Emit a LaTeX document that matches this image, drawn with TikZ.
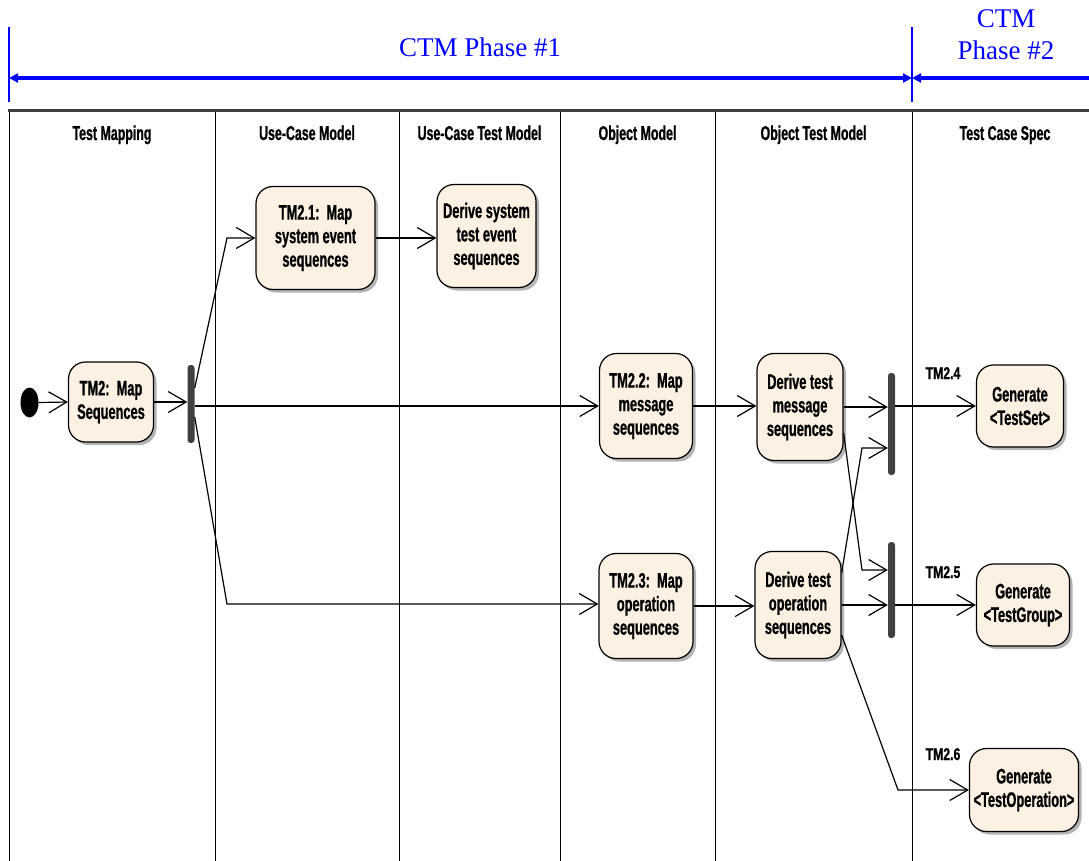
\documentclass[tikz,border=0pt]{standalone}
\usepackage{fontspec}
\usetikzlibrary{arrows.meta,shadows,shapes.geometric}
\newfontfamily\uifont{Liberation Sans}[FakeStretch=0.61, BoldFeatures={FakeBold=0.8}]
\newfontfamily\headfont{Liberation Sans}[FakeStretch=0.62, BoldFeatures={FakeBold=0.8}]
\newfontfamily\tagfont{Liberation Sans}[FakeStretch=0.72, BoldFeatures={FakeBold=0.8}]
\newfontfamily\phasefont{Liberation Serif}
\definecolor{actfill}{RGB}{252,241,226}
\definecolor{bardark}{RGB}{64,64,64}
\begin{document}
\begin{tikzpicture}[x=1pt,y=-1pt,
  act/.style={draw=black, line width=1.2pt, fill=actfill, rounded corners=17pt,
    align=center, inner sep=2pt,
    font=\uifont\bfseries\fontsize{21}{23.5}\selectfont,
    drop shadow={shadow xshift=3pt,shadow yshift=-3pt,fill=black!50,opacity=0.6}},
  forkbar/.style={fill=bardark, rounded corners=3pt, minimum width=7pt, inner sep=0pt},
  initial/.style={ellipse, fill=black, minimum width=18pt, minimum height=30pt, inner sep=0pt},
  flow/.style={draw=black, line width=1.2pt, -{Straight Barb[length=18pt,width=21pt]}},
  lanehead/.style={anchor=base, inner sep=0pt, font=\headfont\bfseries\fontsize{20}{22}\selectfont},
  tag/.style={anchor=base, inner sep=0pt, font=\tagfont\bfseries\fontsize{17}{19}\selectfont},
  phase/.style={anchor=base, inner sep=0pt, text=blue, font=\phasefont\fontsize{27}{32}\selectfont},
  lane/.style={draw=black, line width=0.9pt},
  phasemark/.style={draw=blue, line width=2.7pt},
  phasespan/.style={draw=blue, line width=3.3pt}
]
\useasboundingbox (0,0) rectangle (1089,861);

% phase markers
\draw[phasemark] (9,27) -- (9,102);
\draw[phasemark] (912,27) -- (912,102);
\draw[phasespan, {Triangle[length=9pt,width=9pt]}-{Triangle[length=9pt,width=9pt]}] (9,78) -- (912,78);
\draw[phasespan, {Triangle[length=9pt,width=9pt]}-] (912,78) -- (1089,78);
\node[phase] (ph1) at (480,57) {CTM Phase \#1};
\node[phase] (ph2a) at (1006,28) {CTM};
\node[phase] (ph2b) at (1006,60) {Phase \#2};

% swimlanes
\draw[lane] (9,110) -- (9,861);
\foreach \lx in {215,399,560,715,912} \draw[lane] (\lx,110) -- (\lx,861);
\draw[line width=2.5pt, black!75] (8,110.5) -- (1089,110.5);

\node[lanehead] (h1) at (112,140) {Test Mapping};
\node[lanehead] (h2) at (307,140) {Use-Case Model};
\node[lanehead] (h3) at (479.5,140) {Use-Case Test Model};
\node[lanehead] (h4) at (637.5,140) {Object Model};
\node[lanehead] (h5) at (813.5,140) {Object Test Model};
\node[lanehead] (h6) at (1005,140) {Test Case Spec};

% activities
\node[initial] (start) at (29.5,402.5) {};
\node[act, minimum width=85pt, minimum height=80pt] (tm2) at (111,402) {TM2:\ \ Map\\Sequences};
\node[act, minimum width=119pt, minimum height=103pt] (tm21) at (315.5,238) {TM2.1:\ \ Map\\system event\\sequences};
\node[act, minimum width=99pt, minimum height=103pt] (dsys) at (486.5,236) {Derive system\\test event\\sequences};
\node[act, minimum width=93pt, minimum height=105pt] (tm22) at (646,406) {TM2.2:\ \ Map\\message\\sequences};
\node[act, minimum width=86pt, minimum height=107pt] (dmsg) at (800,407) {Derive test\\message\\sequences};
\node[act, minimum width=94pt, minimum height=105pt] (tm23) at (646,606) {TM2.3:\ \ Map\\operation\\sequences};
\node[act, minimum width=86pt, minimum height=107pt] (dop) at (798,605) {Derive test\\operation\\sequences};
\node[act, minimum width=87pt, minimum height=82pt] (gen1) at (1020,406) {Generate\\<TestSet>};
\node[act, minimum width=93pt, minimum height=82pt] (gen2) at (1023,605) {Generate\\<TestGroup>};
\node[act, minimum width=109pt, minimum height=83pt] (gen3) at (1024,790) {Generate\\<TestOperation>};

% fork / join bars
\node[forkbar, minimum height=78pt] (bar1) at (191,404) {};
\node[forkbar, minimum height=102pt] (bar2) at (891.5,424) {};
\node[forkbar, minimum height=96pt] (bar3) at (891.5,590) {};

% step tags
\node[tag] (t24) at (943,379) {TM2.4};
\node[tag] (t25) at (943,578) {TM2.5};
\node[tag] (t26) at (943,760) {TM2.6};

% bend points
\coordinate (c1) at (227,238);
\coordinate (c2) at (227,604);
\coordinate (c3) at (862,448);
\coordinate (c4) at (862,570);
\coordinate (c5) at (898,790);

% control flows
\draw[flow] (start.east) -- (tm2.west);
\draw[flow] (tm2.east) -- (bar1.west |- tm2.east);
\draw[flow] ([yshift=16pt]bar1.east) -- (c1) -- (c1 -| tm21.west);
\draw[flow] (bar1.east |- tm22.west) -- (tm22.west);
\draw[flow] ([yshift=-13pt]bar1.east) -- (c2) -- (c2 -| tm23.west);
\draw[flow] (tm21.east) -- (tm21.east -| dsys.west);
\draw[flow] (tm22.east) -- (tm22.east -| dmsg.west);
\draw[flow] (tm23.east) -- (tm23.east -| dop.west);
\draw[flow] (dmsg.east) -- (bar2.west |- dmsg.east);
\draw[flow] ([yshift=32pt]dop.east) -- (c3) -- (bar2.west |- c3);
\draw[flow] ([yshift=-26pt]dmsg.east) -- (c4) -- (bar3.west |- c4);
\draw[flow] (dop.east) -- (bar3.west |- dop.east);
\draw[flow] (bar2.east |- gen1.west) -- (gen1.west);
\draw[flow] (bar3.east |- gen2.west) -- (gen2.west);
\draw[flow] ([yshift=-30pt]dop.east) -- (c5) -- (c5 -| gen3.west);
\end{tikzpicture}
\end{document}
